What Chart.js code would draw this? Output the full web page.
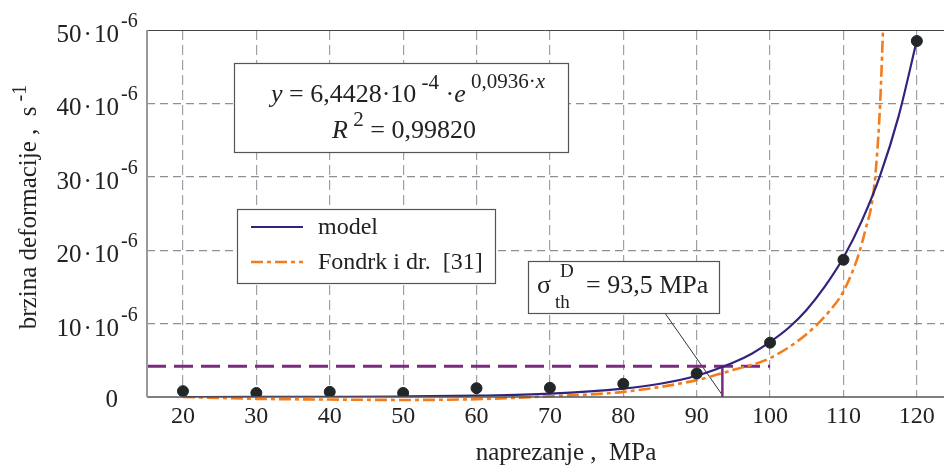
<!DOCTYPE html>
<html>
<head>
<meta charset="utf-8">
<script src="https://cdn.jsdelivr.net/npm/chart.js@4.4.0/dist/chart.umd.min.js"></script>
<style>
html, body { margin: 0; padding: 0; background: #fff; }
#wrap { width: 944px; height: 466px; }
</style>
</head>
<body>
<div id="wrap"><canvas id="chart" width="944" height="466"></canvas></div>
<script>
// axis ticks
const xTicks = [20, 30, 40, 50, 60, 70, 80, 90, 100, 110, 120];
const yTicks = [0, 10, 20, 30, 40, 50];

// measured creep rate (x 1e-6 1/s)
const stress = [20, 30, 40, 50, 60, 70, 80, 90, 100, 110, 120];
const rate = [0.8, 0.55, 0.7, 0.55, 1.2, 1.25, 1.8, 3.2, 7.4, 18.7, 48.5];

// model curve
const modelX = [20, 30, 40, 50, 60, 70, 80, 85, 90, 95, 97.5, 100, 102.5, 105, 107.5, 110, 112.5, 115, 117.5, 120];
const modelY = [0.0, 0.01, 0.03, 0.07, 0.18, 0.45, 1.15, 1.8, 2.9, 4.7, 5.9, 7.5, 9.4, 11.9, 15.1, 19.0, 24.0, 30.2, 38.2, 48.6];

// Fondrk i dr. [31]
const fondrkX = [20, 30, 40, 50, 60, 70, 80, 90, 95, 100, 105, 108, 110, 112, 113, 114, 114.5, 115, 115.5];
const fondrkY = [0, -0.25, -0.35, -0.4, -0.3, 0.1, 0.7, 2.3, 3.7, 5.3, 8.6, 11.6, 14.4, 19.2, 22.8, 27.2, 32, 40, 53];

// threshold marks
const thrX = [15.1, 100];
const thrY = [4.2, 4.2];
const sigmaX = [93.5, 93.5];
const sigmaY = [0, 4.2];
const leaderX = [85.7, 93.4];
const leaderY = [11.4, 0.4];

const FONT = '"Liberation Serif", "DejaVu Serif", serif';
const TXT = '#222';
const pts = (xs, ys) => xs.map((x, i) => ({ x: x, y: ys[i] }));

// draws a row of text pieces: {t, size, dy, it}
function richWidth(ctx, parts) {
    let w = 0;
    parts.forEach(p => {
        ctx.font = (p.it ? 'italic ' : '') + p.size + 'px ' + FONT;
        w += ctx.measureText(p.t).width;
    });
    return w;
}
function richText(ctx, parts, x, y) {
    ctx.textAlign = 'left';
    ctx.textBaseline = 'alphabetic';
    parts.forEach(p => {
        ctx.font = (p.it ? 'italic ' : '') + p.size + 'px ' + FONT;
        ctx.fillText(p.t, x, y - (p.dy || 0));
        x += ctx.measureText(p.t).width;
    });
    return x;
}
function box(ctx, x1, y1, x2, y2) {
    ctx.save();
    ctx.fillStyle = '#fff';
    ctx.fillRect(x1, y1, x2 - x1, y2 - y1);
    ctx.strokeStyle = '#555';
    ctx.lineWidth = 1.2;
    ctx.strokeRect(x1 + 0.5, y1 + 0.5, x2 - x1, y2 - y1);
    ctx.restore();
}

const decor = {
    id: 'decor',
    afterDatasetsDraw(chart) {
        const ctx = chart.ctx;
        const a = chart.chartArea;
        const xs = chart.scales.x, ys = chart.scales.y;
        ctx.save();
        // frame
        ctx.strokeStyle = '#444';
        ctx.lineWidth = 1;
        ctx.beginPath(); ctx.moveTo(a.left, a.top + 0.5); ctx.lineTo(a.right, a.top + 0.5); ctx.stroke();
        ctx.strokeStyle = '#555';
        ctx.lineWidth = 1.5;
        ctx.beginPath(); ctx.moveTo(a.left, a.bottom); ctx.lineTo(a.right, a.bottom); ctx.stroke();
        ctx.strokeStyle = '#999';
        ctx.lineWidth = 2;
        ctx.beginPath(); ctx.moveTo(a.left, a.top); ctx.lineTo(a.left, a.bottom); ctx.stroke();

        ctx.fillStyle = TXT;
        // x tick labels
        ctx.font = '24px ' + FONT;
        ctx.textAlign = 'center';
        ctx.textBaseline = 'alphabetic';
        xTicks.forEach(v => ctx.fillText(String(v), xs.getPixelForValue(v), 423));

        // y tick labels
        yTicks.forEach(v => {
            const py = ys.getPixelForValue(v);
            ctx.font = '25px ' + FONT;
            ctx.textAlign = 'right';
            if (v === 0) {
                ctx.fillText('0', 118, py + 10);
                return;
            }
            ctx.fillText(v + '\u200a\u00b7\u200a10', 119, py + 12);
            ctx.font = '20px ' + FONT;
            ctx.textAlign = 'left';
            ctx.fillText('-6', 121, py - 3);
        });

        // axis titles
        ctx.font = '25px ' + FONT;
        ctx.textAlign = 'center';
        ctx.fillText('naprezanje ,  MPa', 566, 460);

        ctx.save();
        ctx.translate(36, 207);
        ctx.rotate(-Math.PI / 2);
        const yt = [{ t: 'brzina deformacije ,  s', size: 25 }, { t: ' -1', size: 20, dy: 10 }];
        richText(ctx, yt, -richWidth(ctx, yt) / 2, 0);
        ctx.restore();

        // equation box
        box(ctx, 234, 63, 568, 152);
        ctx.fillStyle = TXT;
        const eq1 = [
            { t: 'y', size: 26, it: true },
            { t: ' = 6,4428\u00b710', size: 26 },
            { t: ' -4', size: 21, dy: 13 },
            { t: ' \u00b7', size: 26 },
            { t: 'e', size: 26, it: true },
            { t: ' 0,0936\u00b7', size: 21, dy: 14 },
            { t: 'x', size: 21, dy: 14, it: true }
        ];
        richText(ctx, eq1, 408 - richWidth(ctx, eq1) / 2, 102);
        const eq2 = [
            { t: 'R', size: 26, it: true },
            { t: ' 2', size: 21, dy: 12 },
            { t: ' = 0,99820', size: 26 }
        ];
        richText(ctx, eq2, 404 - richWidth(ctx, eq2) / 2, 138);

        // legend
        box(ctx, 237, 209, 495, 283);
        const ds = chart.data.datasets;
        [[1, 227], [2, 262]].forEach(([i, ly]) => {
            ctx.save();
            ctx.strokeStyle = ds[i].borderColor;
            ctx.lineWidth = ds[i].borderWidth;
            ctx.setLineDash(ds[i].borderDash || []);
            ctx.beginPath(); ctx.moveTo(251, ly); ctx.lineTo(303, ly); ctx.stroke();
            ctx.restore();
            ctx.fillStyle = TXT;
            ctx.font = '24px ' + FONT;
            ctx.textAlign = 'left';
            ctx.fillText(ds[i].label, 318, ly + 7);
        });

        // threshold label
        box(ctx, 528, 261, 719, 313);
        ctx.fillStyle = TXT;
        ctx.font = '26px ' + FONT;
        ctx.textAlign = 'left';
        ctx.fillText('\u03c3', 537, 293);
        ctx.font = '19px ' + FONT;
        ctx.fillText('D', 560, 277);
        ctx.fillText('th', 555, 308);
        ctx.font = '26px ' + FONT;
        ctx.fillText('= 93,5 MPa', 586, 293);
        ctx.restore();
    }
};

new Chart(document.getElementById('chart'), {
    type: 'line',
    data: {
        datasets: [
            {
                label: 'data',
                type: 'scatter',
                data: pts(stress, rate),
                backgroundColor: '#222628',
                borderColor: '#222628',
                pointRadius: 5.5,
                showLine: false
            },
            {
                label: 'model',
                data: pts(modelX, modelY),
                borderColor: '#33237c',
                borderWidth: 2.2,
                pointRadius: 0,
                cubicInterpolationMode: 'monotone'
            },
            {
                label: 'Fondrk i dr.  [31]',
                data: pts(fondrkX, fondrkY),
                borderColor: '#f47c1c',
                borderWidth: 2.6,
                borderDash: [12, 4, 4, 4],
                pointRadius: 0,
                cubicInterpolationMode: 'monotone',
                clip: { left: 0, top: 0, right: 0, bottom: 5 }
            },
            {
                label: 'threshold',
                data: pts(thrX, thrY),
                borderColor: '#7b2a80',
                borderWidth: 3,
                borderDash: [19, 8],
                pointRadius: 0
            },
            {
                label: 'sigma',
                data: pts(sigmaX, sigmaY),
                borderColor: '#7b2a80',
                borderWidth: 2.5,
                pointRadius: 0
            },
            {
                label: 'leader',
                data: pts(leaderX, leaderY),
                borderColor: '#333',
                borderWidth: 1,
                pointRadius: 0
            }
        ]
    },
    options: {
        responsive: false,
        animation: false,
        devicePixelRatio: 1,
        layout: { autoPadding: false, padding: { top: 30, right: 0, left: 0, bottom: 0 } },
        plugins: { legend: { display: false }, tooltip: { enabled: false } },
        scales: {
            x: {
                type: 'linear',
                min: 15.1,
                max: 123.7,
                afterBuildTicks: s => { s.ticks = xTicks.map(v => ({ value: v })); },
                afterFit: s => { s.height = 69; },
                ticks: { display: false },
                grid: { color: '#9ba1a7', lineWidth: 1.2, drawTicks: false },
                border: { display: false, dash: [10, 5] }
            },
            y: {
                min: 0,
                max: 50,
                afterBuildTicks: s => { s.ticks = yTicks.map(v => ({ value: v })); },
                afterFit: s => { s.width = 147; },
                ticks: { display: false },
                grid: {
                    color: c => (c.tick && (c.tick.value === 0 || c.tick.value === 50)) ? 'rgba(0,0,0,0)' : '#8a9096',
                    lineWidth: 1.2,
                    drawTicks: false
                },
                border: { display: false, dash: [8, 5] }
            }
        }
    },
    plugins: [decor]
});
</script>
</body>
</html>
